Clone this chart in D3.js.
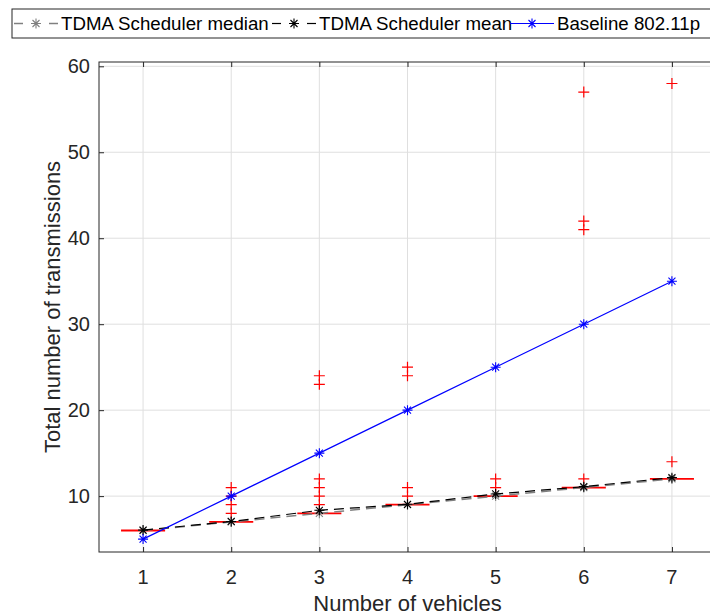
<!DOCTYPE html>
<html>
<head>
<meta charset="utf-8">
<script src="https://cdn.jsdelivr.net/npm/d3@7"></script>
<style>
  body { margin: 0; background: #fff; }
  svg { display: block; font-family: "Liberation Sans", Arial, sans-serif; }
</style>
</head>
<body>
<div id="chart"></div>
<script>
// Chart values
const vehicles = [1, 2, 3, 4, 5, 6, 7];
const tdmaMedian = [6, 7, 8, 9, 10, 11, 12];
const tdmaMean = [6.05, 7.05, 8.35, 9.05, 10.25, 11.1, 12.15];
const baseline = [5, 10, 15, 20, 25, 30, 35];
const outliers = [
    [],
    [8, 9, 10, 11],
    [9, 10, 11, 12, 23, 24],
    [10, 11, 24, 25],
    [11, 12],
    [12, 41, 42, 57],
    [14, 58]
];
const xTicks = [1, 2, 3, 4, 5, 6, 7];
const yTicks = [10, 20, 30, 40, 50, 60];
const legendLabels = ["TDMA Scheduler median", "TDMA Scheduler mean", "Baseline 802.11p"];

const width = 710;
const height = 616;
const margin = { left: 99, right: 716, top: 62, bottom: 552 };

const svg = d3.select("#chart")
    .append("svg")
    .attr("width", width)
    .attr("height", height);

const x = d3.scaleLinear().domain([0.5, 7.5]).range([margin.left, margin.right]);
const y = d3.scaleLinear().domain([3.5, 60.5]).range([margin.bottom, margin.top]);

const axisColor = "#262626";

// star marker like matlab '*'
function starPath(s) {
    const d = s * 0.7;
    return `M${-s},0L${s},0M0,${-s}L0,${s}M${-d},${-d}L${d},${d}M${-d},${d}L${d},${-d}`;
}

// grid
svg.append("g")
    .selectAll("line")
    .data(xTicks)
    .enter().append("line")
    .attr("x1", d => x(d)).attr("x2", d => x(d))
    .attr("y1", margin.top).attr("y2", margin.bottom)
    .style("stroke", "#dfdfdf").style("stroke-width", 1);

svg.append("g")
    .selectAll("line")
    .data(yTicks)
    .enter().append("line")
    .attr("x1", margin.left).attr("x2", margin.right)
    .attr("y1", d => y(d)).attr("y2", d => y(d))
    .style("stroke", "#dfdfdf").style("stroke-width", 1);

// axes (ticks inside like matlab)
const xAxisB = svg.append("g")
    .attr("transform", `translate(0,${margin.bottom})`)
    .call(d3.axisTop(x).tickValues(xTicks).tickSize(5).tickFormat(""));
const xAxisT = svg.append("g")
    .attr("transform", `translate(0,${margin.top})`)
    .call(d3.axisBottom(x).tickValues(xTicks).tickSize(5).tickFormat(""));
const yAxisL = svg.append("g")
    .attr("transform", `translate(${margin.left},0)`)
    .call(d3.axisRight(y).tickValues(yTicks).tickSize(5).tickFormat(""));
const yAxisR = svg.append("g")
    .attr("transform", `translate(${margin.right},0)`)
    .call(d3.axisLeft(y).tickValues(yTicks).tickSize(5).tickFormat(""));

[xAxisB, xAxisT, yAxisL, yAxisR].forEach(g => {
    g.select(".domain").remove();
    g.selectAll("line").style("stroke", axisColor);
});

svg.append("rect")
    .attr("x", margin.left).attr("y", margin.top)
    .attr("width", margin.right - margin.left)
    .attr("height", margin.bottom - margin.top)
    .style("fill", "none").style("stroke", axisColor).style("stroke-width", 1);

// tick labels
svg.append("g")
    .selectAll("text")
    .data(xTicks)
    .enter().append("text")
    .attr("x", d => x(d))
    .attr("y", 584)
    .attr("text-anchor", "middle")
    .style("font-size", "20px")
    .style("fill", axisColor)
    .text(d => d);

svg.append("g")
    .selectAll("text")
    .data(yTicks)
    .enter().append("text")
    .attr("x", 90)
    .attr("y", d => y(d) + 7)
    .attr("text-anchor", "end")
    .style("font-size", "20px")
    .style("fill", axisColor)
    .text(d => d);

// axis labels
svg.append("text")
    .attr("x", (x(1) + x(7)) / 2)
    .attr("y", 611)
    .attr("text-anchor", "middle")
    .style("font-size", "22px")
    .style("fill", axisColor)
    .text("Number of vehicles");

svg.append("text")
    .attr("transform", `translate(60,${(margin.top + margin.bottom) / 2}) rotate(-90)`)
    .attr("text-anchor", "middle")
    .style("font-size", "22px")
    .style("fill", axisColor)
    .text("Total number of transmissions");

// boxplot: medians (boxes collapse onto the median)
svg.append("g")
    .selectAll("line")
    .data(vehicles)
    .enter().append("line")
    .attr("x1", (d) => x(d - 0.25))
    .attr("x2", (d) => x(d + 0.25))
    .attr("y1", (d, i) => y(tdmaMedian[i]))
    .attr("y2", (d, i) => y(tdmaMedian[i]))
    .style("stroke", "#ff0000")
    .style("stroke-width", 1.8);

// outliers
const outPts = [];
vehicles.forEach((v, i) => outliers[i].forEach(o => outPts.push({ v: v, o: o })));
svg.append("g")
    .selectAll("path")
    .data(outPts)
    .enter().append("path")
    .attr("transform", d => `translate(${x(d.v)},${y(d.o)})`)
    .attr("d", "M-5.5,0L5.5,0M0,-5.5L0,5.5")
    .style("stroke", "#ff0000")
    .style("stroke-width", 1.2)
    .style("fill", "none");

// lines
const series = [
    { values: tdmaMedian, color: "#808080", dash: "10,6", width: 1.5 },
    { values: tdmaMean, color: "#000000", dash: "10,6", width: 1.2 },
    { values: baseline, color: "#0000ff", dash: null, width: 1.2 }
];

const line = d3.line().x(d => x(d[0])).y(d => y(d[1]));

series.forEach(s => {
    const pts = vehicles.map((v, i) => [v, s.values[i]]);
    svg.append("path")
        .datum(pts)
        .attr("d", line)
        .style("fill", "none")
        .style("stroke", s.color)
        .style("stroke-width", s.width)
        .style("stroke-dasharray", s.dash);
    svg.append("g")
        .selectAll("path")
        .data(pts)
        .enter().append("path")
        .attr("transform", d => `translate(${x(d[0])},${y(d[1])})`)
        .attr("d", starPath(5))
        .style("stroke", s.color)
        .style("stroke-width", 1.1)
        .style("fill", "none");
});

// legend
const legend = svg.append("g");
legend.append("rect")
    .attr("x", 12).attr("y", 9)
    .attr("width", 710).attr("height", 29)
    .style("fill", "#fff")
    .style("stroke", axisColor)
    .style("stroke-width", 1);

const legendX = [14, 272, 510];
series.forEach((s, i) => {
    const g = legend.append("g").attr("transform", `translate(${legendX[i]},23.5)`);
    const segs = s.dash ? [[0, 9], [35, 44]] : [[0, 44]];
    segs.forEach(seg => {
        g.append("line")
            .attr("x1", seg[0]).attr("x2", seg[1])
            .attr("y1", 0).attr("y2", 0)
            .style("stroke", s.color)
            .style("stroke-width", s.width);
    });
    g.append("path")
        .attr("transform", "translate(22,0)")
        .attr("d", starPath(5))
        .style("stroke", s.color)
        .style("stroke-width", 1.1)
        .style("fill", "none");
    g.append("text")
        .attr("x", 47)
        .attr("y", 6.5)
        .style("font-size", "18.7px")
        .style("fill", "#000")
        .text(legendLabels[i]);
});
</script>
</body>
</html>
